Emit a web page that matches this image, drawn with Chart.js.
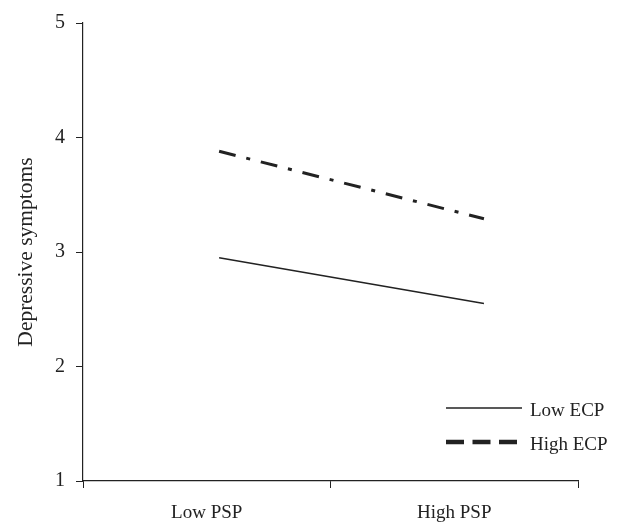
<!DOCTYPE html>
<html>
<head>
<meta charset="utf-8">
<script src="https://cdn.jsdelivr.net/npm/chart.js@4.4.1/dist/chart.umd.min.js"></script>
<style>
  html, body { margin: 0; padding: 0; background: #fff; }
  #wrap { width: 622px; height: 523px; }
</style>
</head>
<body>
<div id="wrap"><canvas id="myChart" width="622" height="523"></canvas></div>
<script>
"use strict";

// categories on the x axis
const categories = ["Low PSP", "High PSP"];
// where each line starts/ends along the x axis (category units, Low PSP = 0)
const xValues = [0.05, 1.12];
// series
const seriesNames = ["Low ECP", "High ECP"];
const lowEcp = [2.95, 2.55];
const highEcp = [3.88, 3.29];
// y axis ticks
const yTicks = [1, 2, 3, 4, 5];

const fontFamily = "'Liberation Serif', 'Times New Roman', serif";
const ink = "#222";

function toPoints(values) {
  let pts = [];
  for (let i in values) {
    pts.push({ x: xValues[i], y: values[i] });
  }
  return pts;
}

// small legend drawn inside the plot, bottom right
const cornerLegend = {
  id: "cornerLegend",
  afterDraw(chart) {
    const ctx = chart.ctx;
    const area = chart.chartArea;
    const x0 = area.right - 132;
    const x1 = area.right - 56;
    const rows = [
      { y: area.bottom - 73, width: 1.5, dash: [] },
      { y: area.bottom - 39, width: 4.5, dash: [18, 8.5] },
    ];
    ctx.save();
    ctx.strokeStyle = ink;
    ctx.fillStyle = ink;
    ctx.font = "19px " + fontFamily;
    ctx.textBaseline = "middle";
    for (let i in rows) {
      let r = rows[i];
      ctx.beginPath();
      ctx.lineWidth = r.width;
      ctx.setLineDash(r.dash);
      ctx.moveTo(x0, r.y);
      ctx.lineTo(x1, r.y);
      ctx.stroke();
      ctx.setLineDash([]);
      ctx.fillText(seriesNames[i], x1 + 8, r.y + 3);
    }
    ctx.restore();
  },
};

const ctx = document.getElementById("myChart").getContext("2d");

const myChart = new Chart(ctx, {
  type: "line",
  data: {
    labels: categories,
    datasets: [
      {
        label: seriesNames[0],
        data: toPoints(lowEcp),
        xAxisID: "xv",
        borderColor: ink,
        borderWidth: 1.5,
        pointRadius: 0,
        tension: 0,
      },
      {
        label: seriesNames[1],
        data: toPoints(highEcp),
        xAxisID: "xv",
        borderColor: ink,
        borderWidth: 3,
        borderDash: [17, 11, 4, 11],
        pointRadius: 0,
        tension: 0,
      },
    ],
  },
  options: {
    responsive: false,
    animation: false,
    layout: { padding: { top: 20, right: 44, left: 0, bottom: 0 } },
    plugins: {
      legend: { display: false },
      tooltip: { enabled: false },
    },
    scales: {
      x: {
        type: "category",
        offset: true,
        grid: {
          offset: true,
          drawOnChartArea: false,
          drawTicks: true,
          tickLength: 7,
          color: ink,
        },
        border: { display: true, color: ink, width: 1.2 },
        ticks: {
          color: ink,
          padding: 14,
          maxRotation: 0,
          font: { family: fontFamily, size: 19 },
        },
        afterFit(scale) {
          scale.height = 42;
        },
      },
      xv: {
        type: "linear",
        display: false,
        min: -0.5,
        max: 1.5,
      },
      y: {
        min: 1,
        max: 5,
        afterBuildTicks(scale) {
          scale.ticks = yTicks.map((v) => ({ value: v }));
        },
        grid: {
          drawOnChartArea: false,
          drawTicks: true,
          tickLength: 7,
          color: ink,
        },
        border: { display: true, color: ink, width: 1.2 },
        ticks: {
          color: ink,
          padding: 11,
          font: { family: fontFamily, size: 20 },
        },
        title: {
          display: true,
          text: "Depressive symptoms",
          color: ink,
          padding: { top: 13, bottom: 0 },
          font: { family: fontFamily, size: 21.5 },
        },
        afterFit(scale) {
          scale.width = 83;
        },
      },
    },
  },
  plugins: [cornerLegend],
});
</script>
</body>
</html>
